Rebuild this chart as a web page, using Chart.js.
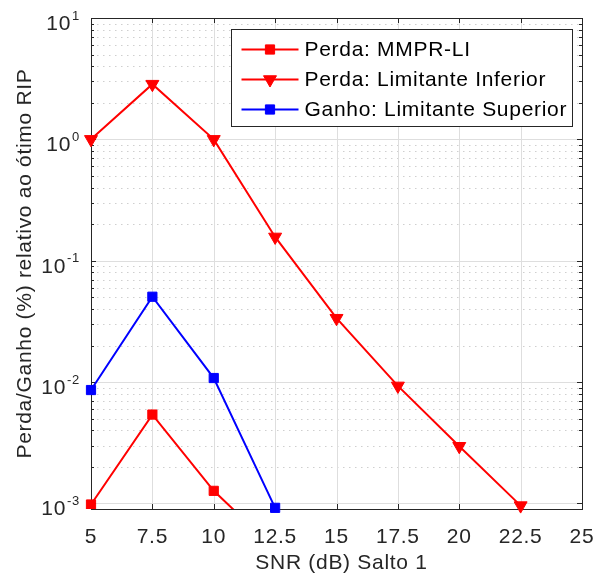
<!DOCTYPE html>
<html>
<head>
<meta charset="utf-8">
<script src="https://cdn.jsdelivr.net/npm/chart.js@4.4.0/dist/chart.umd.min.js"></script>
<style>
  html, body { margin: 0; padding: 0; background: #fff; }
  #wrap { width: 595px; height: 576px; }
</style>
</head>
<body>
<div id="wrap"><canvas id="snrChart"></canvas></div>
<script>
// ===== DATA =====
const snr = [5, 7.5, 10, 12.5, 15, 17.5, 20, 22.5];
const perdaMmpr = [0.00098, 0.0054, 0.00127, 0.00042, null, null, null, null];
const perdaInferior = [1.0, 2.85, 1.0, 0.157, 0.0336, 0.0093, 0.00296, 0.00096];
const ganhoSuperior = [0.0086, 0.0505, 0.0108, 0.00092, null, null, null, null];

const seriesNames = ["Perda: MMPR-LI", "Perda: Limitante Inferior", "Ganho: Limitante Superior"];
const xTicks = [5, 7.5, 10, 12.5, 15, 17.5, 20, 22.5, 25];
const yDecades = [-3, -2, -1, 0, 1];
const xTitle = "SNR (dB) Salto 1";
const yTitle = "Perda/Ganho (%) relativo ao ótimo RIP";

const FONT = "'Liberation Sans', Arial, Helvetica, sans-serif";
const TEXT = "#262626";
const SPACING = "0.7px"; // a bit of tracking, text looked too tight

function points(values) {
    return snr.map((x, i) => ({ x: x, y: values[i] }));
}

// matlab-ish axes: grid, box, inward ticks, tick labels and titles
const axesPlugin = {
    id: "matlabAxes",
    beforeDatasetsDraw(chart) {
        const ctx = chart.ctx;
        const a = chart.chartArea;
        const xs = chart.scales.x, ys = chart.scales.y;
        const r = v => Math.round(v) + 0.5;
        ctx.save();

        // minor horizontal grid (dotted)
        ctx.strokeStyle = "#cfcfcf";
        ctx.lineWidth = 1;
        ctx.setLineDash([1.5, 4.5]);
        const minors = [];
        for (let d = -4; d <= 1; d++) {
            for (let m = 2; m <= 9; m++) {
                const v = m * Math.pow(10, d);
                if (v > ys.min && v < ys.max) minors.push(v);
            }
        }
        minors.forEach(v => {
            const y = r(ys.getPixelForValue(v));
            ctx.beginPath(); ctx.moveTo(a.left, y); ctx.lineTo(a.right, y); ctx.stroke();
        });

        // major grid (solid)
        ctx.setLineDash([]);
        ctx.strokeStyle = "#dedede";
        yDecades.forEach(d => {
            const y = r(ys.getPixelForValue(Math.pow(10, d)));
            ctx.beginPath(); ctx.moveTo(a.left, y); ctx.lineTo(a.right, y); ctx.stroke();
        });
        xTicks.forEach(v => {
            const x = r(xs.getPixelForValue(v));
            ctx.beginPath(); ctx.moveTo(x, a.top); ctx.lineTo(x, a.bottom); ctx.stroke();
        });

        // box + inward ticks
        ctx.strokeStyle = TEXT;
        ctx.lineWidth = 1;
        ctx.strokeRect(r(a.left), r(a.top), Math.round(a.right - a.left), Math.round(a.bottom - a.top));
        ctx.beginPath();
        xTicks.forEach(v => {
            const x = r(xs.getPixelForValue(v));
            ctx.moveTo(x, a.bottom); ctx.lineTo(x, a.bottom - 5);
            ctx.moveTo(x, a.top); ctx.lineTo(x, a.top + 5);
        });
        yDecades.forEach(d => {
            const y = r(ys.getPixelForValue(Math.pow(10, d)));
            ctx.moveTo(a.left, y); ctx.lineTo(a.left + 5, y);
            ctx.moveTo(a.right, y); ctx.lineTo(a.right - 5, y);
        });
        minors.forEach(v => {
            const y = r(ys.getPixelForValue(v));
            ctx.moveTo(a.left, y); ctx.lineTo(a.left + 3, y);
            ctx.moveTo(a.right, y); ctx.lineTo(a.right - 3, y);
        });
        ctx.stroke();

        // x tick labels
        ctx.letterSpacing = SPACING;
        ctx.fillStyle = TEXT;
        ctx.font = "21px " + FONT;
        ctx.textAlign = "center";
        ctx.textBaseline = "alphabetic";
        xTicks.forEach(v => {
            ctx.fillText(String(v), xs.getPixelForValue(v), a.bottom + 34);
        });

        // y tick labels: 10 with superscript exponent
        yDecades.forEach(d => {
            const y = ys.getPixelForValue(Math.pow(10, d));
            const sup = String(d);
            ctx.font = "13px " + FONT;
            const sw = ctx.measureText(sup).width;
            const xr = a.left - 11;
            ctx.textAlign = "right";
            ctx.fillText(sup, xr, y + 1.5);
            ctx.font = "21px " + FONT;
            ctx.fillText("10", xr - sw - 1, y + 12);
        });

        // axis titles
        ctx.font = "21px " + FONT;
        ctx.textAlign = "center";
        ctx.fillText(xTitle, (a.left + a.right) / 2 + 5, a.bottom + 60);
        ctx.save();
        ctx.translate(31, (a.top + a.bottom) / 2);
        ctx.rotate(-Math.PI / 2);
        ctx.fillText(yTitle, 0, 0);
        ctx.restore();

        ctx.restore();
    },
    afterDatasetsDraw(chart) {
        // legend box, top-right inside the axes
        const ctx = chart.ctx;
        const a = chart.chartArea;
        ctx.save();
        ctx.letterSpacing = SPACING;
        ctx.font = "21px " + FONT;
        const textW = Math.max(...seriesNames.map(s => ctx.measureText(s).width));
        const right = Math.round(a.right - 10) + 0.5;
        const top = Math.round(a.top + 11) + 0.5;
        const left = Math.round(right - (73 + textW + 6)) + 0.5;
        const height = 97;
        ctx.fillStyle = "#ffffff";
        ctx.fillRect(left, top, right - left, height);
        ctx.strokeStyle = TEXT;
        ctx.lineWidth = 1;
        ctx.strokeRect(left, top, right - left, height);

        chart.data.datasets.forEach((ds, i) => {
            const y = top + 20 + i * 30;
            ctx.strokeStyle = ds.borderColor;
            ctx.lineWidth = 2;
            ctx.beginPath();
            ctx.moveTo(left + 10, y);
            ctx.lineTo(left + 67, y);
            ctx.stroke();
            ctx.fillStyle = ds.backgroundColor;
            ctx.lineWidth = 1;
            Chart.helpers.drawPoint(ctx, {
                pointStyle: ds.pointStyle,
                radius: ds.pointRadius,
                rotation: ds.pointRotation || 0,
                borderWidth: 1
            }, left + 38.5, y);
            ctx.fillStyle = "#000000";
            ctx.textAlign = "left";
            ctx.textBaseline = "middle";
            ctx.fillText(ds.label, left + 73, y + 1);
        });
        ctx.restore();
    }
};

const ctx = document.getElementById("snrChart").getContext("2d");
new Chart(ctx, {
    type: "line",
    data: {
        datasets: [
            {
                label: seriesNames[0],
                data: points(perdaMmpr),
                borderColor: "#ff0000",
                backgroundColor: "#ff0000",
                borderWidth: 2,
                pointStyle: "rect",
                pointRadius: 6.5,
                pointBorderWidth: 1,
                clip: { left: 10, top: 10, right: 10, bottom: 0 }
            },
            {
                label: seriesNames[1],
                data: points(perdaInferior),
                borderColor: "#ff0000",
                backgroundColor: "#ff0000",
                borderWidth: 2,
                pointStyle: "triangle",
                pointRotation: 180,
                pointRadius: 7.5,
                pointBorderWidth: 1,
                clip: false
            },
            {
                label: seriesNames[2],
                data: points(ganhoSuperior),
                borderColor: "#0000ff",
                backgroundColor: "#0000ff",
                borderWidth: 2,
                pointStyle: "rect",
                pointRadius: 6.5,
                pointBorderWidth: 1,
                clip: false
            }
        ]
    },
    options: {
        responsive: true,
        maintainAspectRatio: false,
        animation: false,
        events: [],
        layout: { padding: { left: 91, right: 13, top: 18, bottom: 67 } },
        scales: {
            x: { type: "linear", min: 5, max: 25, display: false },
            y: { type: "logarithmic", min: 9e-4, max: 10, display: false }
        },
        plugins: {
            legend: { display: false },
            tooltip: { enabled: false }
        }
    },
    plugins: [axesPlugin]
});
</script>
</body>
</html>
